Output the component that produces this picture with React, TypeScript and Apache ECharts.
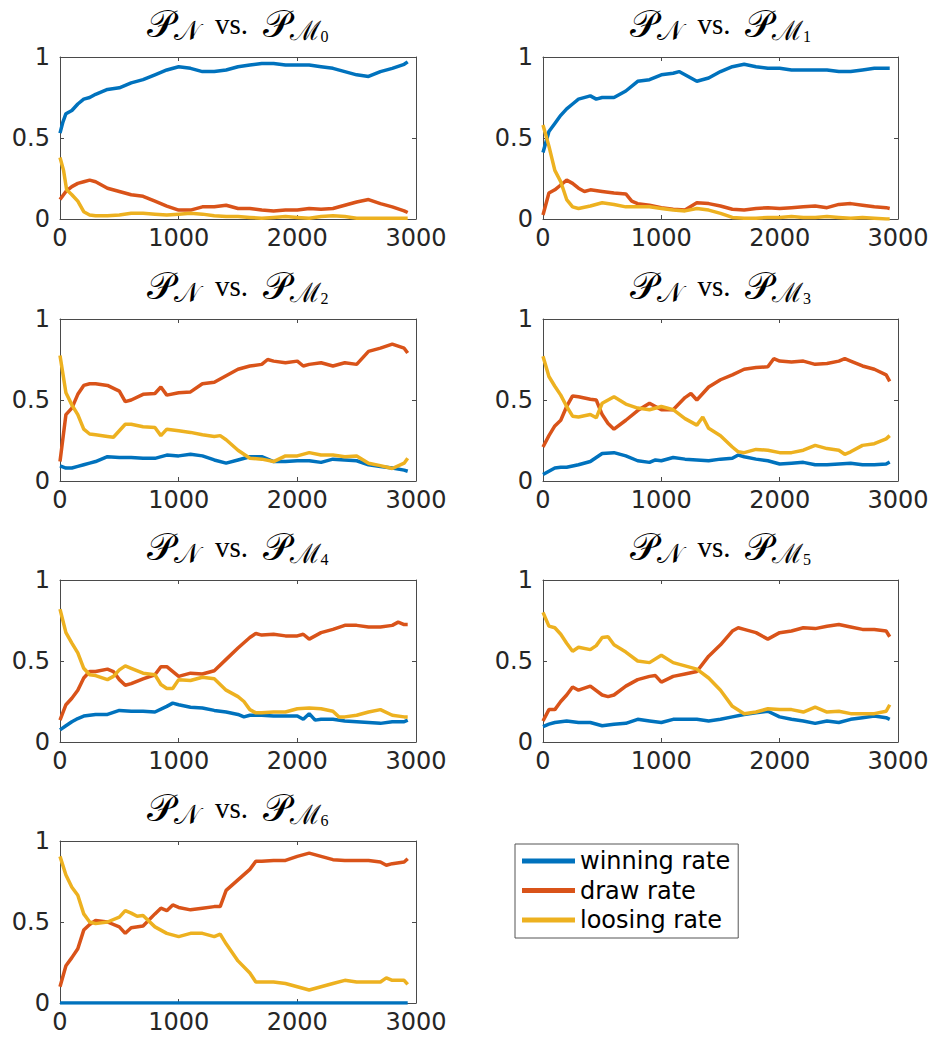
import React, { useEffect, useRef } from "react";
import * as echarts from "echarts";

const SERIES_NAMES = ["winning rate", "draw rate", "loosing rate"];
const COLORS = ["#0072BD", "#D95319", "#EDB120"];
const X_MIN = 0, X_MAX = 3000, X_STEP = 1000;
const Y_MIN = 0, Y_MAX = 1, Y_STEP = 0.5;
const TITLE_SUBS = ["0", "1", "2", "3", "4", "5", "6"];

// Panel 0: P_N vs P_M0
const P0_WIN = [[0,0.53],[25,0.6],[50,0.65],[100,0.67],[150,0.71],[200,0.74],[250,0.75],[300,0.77],[400,0.8],[500,0.81],[600,0.84],[700,0.86],[800,0.89],[900,0.92],[1000,0.94],[1100,0.93],[1200,0.91],[1300,0.91],[1400,0.92],[1500,0.94],[1600,0.95],[1700,0.96],[1800,0.96],[1900,0.95],[2000,0.95],[2100,0.95],[2200,0.94],[2300,0.93],[2400,0.91],[2500,0.89],[2600,0.88],[2700,0.91],[2800,0.93],[2900,0.955],[2930,0.97]];
const P0_DRAW = [[0,0.12],[50,0.17],[100,0.2],[150,0.22],[200,0.23],[250,0.24],[300,0.23],[400,0.19],[500,0.17],[600,0.15],[700,0.14],[800,0.11],[900,0.08],[1000,0.055],[1100,0.055],[1200,0.075],[1300,0.075],[1400,0.085],[1500,0.065],[1600,0.065],[1700,0.055],[1800,0.05],[1900,0.055],[2000,0.055],[2100,0.065],[2200,0.06],[2300,0.065],[2400,0.085],[2500,0.105],[2600,0.12],[2700,0.095],[2800,0.075],[2900,0.05],[2930,0.04]];
const P0_LOSE = [[0,0.38],[30,0.3],[56,0.18],[100,0.15],[150,0.11],[200,0.045],[250,0.025],[300,0.02],[400,0.02],[500,0.025],[600,0.035],[700,0.035],[800,0.03],[900,0.025],[1000,0.03],[1100,0.035],[1200,0.03],[1300,0.02],[1400,0.015],[1500,0.015],[1600,0.01],[1700,0.005],[1800,0.01],[1900,0.015],[2000,0.01],[2100,0.005],[2200,0.015],[2300,0.02],[2400,0.015],[2500,0.005],[2600,0.005],[2700,0.005],[2800,0.005],[2900,0.005],[2930,0.005]];

// Panel 1: P_N vs P_M1
const P1_WIN = [[0,0.41],[50,0.54],[100,0.59],[150,0.64],[200,0.68],[250,0.71],[300,0.74],[400,0.76],[450,0.74],[500,0.75],[600,0.75],[700,0.79],[800,0.85],[900,0.86],[1000,0.89],[1100,0.9],[1150,0.91],[1200,0.89],[1300,0.85],[1400,0.87],[1500,0.91],[1600,0.94],[1700,0.955],[1800,0.94],[1900,0.93],[2000,0.93],[2100,0.92],[2200,0.92],[2300,0.92],[2400,0.92],[2500,0.91],[2600,0.91],[2700,0.92],[2800,0.93],[2900,0.93],[2930,0.93]];
const P1_DRAW = [[0,0.025],[50,0.16],[100,0.18],[150,0.21],[200,0.24],[250,0.22],[300,0.19],[350,0.17],[400,0.18],[500,0.17],[600,0.16],[700,0.155],[750,0.11],[800,0.095],[900,0.085],[1000,0.07],[1100,0.06],[1200,0.055],[1300,0.1],[1400,0.095],[1500,0.08],[1600,0.06],[1700,0.055],[1800,0.065],[1900,0.07],[2000,0.065],[2100,0.07],[2200,0.075],[2300,0.08],[2400,0.07],[2500,0.09],[2600,0.095],[2700,0.085],[2800,0.075],[2900,0.07],[2930,0.065]];
const P1_LOSE = [[0,0.58],[50,0.45],[100,0.3],[150,0.23],[200,0.12],[250,0.075],[300,0.065],[400,0.08],[500,0.1],[600,0.09],[700,0.075],[800,0.075],[900,0.075],[1000,0.065],[1100,0.055],[1200,0.05],[1300,0.065],[1400,0.055],[1500,0.035],[1600,0.01],[1700,0.005],[1800,0.005],[1900,0.01],[2000,0.01],[2100,0.015],[2200,0.01],[2300,0.01],[2400,0.015],[2500,0.01],[2600,0.005],[2700,0.01],[2800,0.005],[2900,0],[2930,0]];

// Panel 2: P_N vs P_M2
const P2_WIN = [[0,0.094],[50,0.08],[100,0.08],[150,0.09],[200,0.1],[250,0.11],[300,0.12],[400,0.15],[500,0.145],[600,0.145],[700,0.14],[800,0.14],[900,0.16],[1000,0.155],[1100,0.165],[1200,0.155],[1300,0.13],[1400,0.11],[1500,0.13],[1600,0.15],[1700,0.15],[1800,0.12],[1900,0.12],[2000,0.125],[2100,0.125],[2200,0.115],[2300,0.135],[2400,0.13],[2500,0.125],[2600,0.1],[2700,0.09],[2800,0.08],[2900,0.067],[2930,0.06]];
const P2_DRAW = [[0,0.12],[50,0.41],[100,0.45],[150,0.535],[200,0.59],[250,0.6],[300,0.6],[400,0.59],[500,0.555],[550,0.49],[600,0.5],[700,0.535],[800,0.54],[850,0.58],[900,0.53],[1000,0.545],[1100,0.55],[1200,0.6],[1300,0.61],[1400,0.65],[1500,0.69],[1600,0.71],[1700,0.72],[1750,0.75],[1800,0.74],[1900,0.73],[2000,0.74],[2050,0.71],[2100,0.72],[2200,0.73],[2300,0.71],[2400,0.73],[2500,0.72],[2600,0.8],[2700,0.82],[2800,0.845],[2900,0.82],[2930,0.79]];
const P2_LOSE = [[0,0.775],[50,0.545],[100,0.47],[150,0.41],[200,0.32],[250,0.29],[300,0.285],[400,0.275],[450,0.27],[500,0.31],[550,0.35],[600,0.35],[700,0.335],[800,0.33],[850,0.28],[900,0.32],[1000,0.31],[1100,0.3],[1200,0.285],[1300,0.275],[1350,0.28],[1400,0.255],[1500,0.19],[1600,0.14],[1700,0.135],[1800,0.12],[1900,0.155],[2000,0.155],[2100,0.175],[2200,0.16],[2300,0.16],[2400,0.15],[2500,0.155],[2600,0.11],[2700,0.095],[2800,0.077],[2900,0.11],[2930,0.14]];

// Panel 3: P_N vs P_M3
const P3_WIN = [[0,0.04],[50,0.06],[100,0.08],[150,0.085],[200,0.085],[300,0.1],[400,0.12],[450,0.145],[500,0.17],[600,0.175],[700,0.155],[800,0.125],[900,0.115],[950,0.13],[1000,0.125],[1100,0.145],[1200,0.135],[1300,0.13],[1400,0.125],[1500,0.135],[1600,0.14],[1650,0.16],[1700,0.15],[1800,0.135],[1900,0.125],[2000,0.105],[2100,0.11],[2200,0.115],[2300,0.1],[2400,0.1],[2500,0.105],[2600,0.11],[2700,0.1],[2800,0.1],[2900,0.105],[2930,0.117]];
const P3_DRAW = [[0,0.21],[50,0.28],[100,0.34],[150,0.375],[200,0.46],[250,0.525],[300,0.52],[400,0.505],[450,0.5],[500,0.41],[550,0.355],[600,0.32],[700,0.375],[800,0.435],[900,0.48],[1000,0.44],[1100,0.44],[1200,0.515],[1250,0.54],[1300,0.5],[1400,0.58],[1500,0.625],[1600,0.655],[1700,0.69],[1800,0.7],[1900,0.705],[1950,0.755],[2000,0.74],[2100,0.735],[2200,0.74],[2300,0.72],[2400,0.725],[2500,0.74],[2550,0.755],[2600,0.74],[2700,0.71],[2800,0.69],[2900,0.655],[2930,0.615]];
const P3_LOSE = [[0,0.77],[50,0.645],[100,0.585],[150,0.53],[200,0.46],[250,0.4],[300,0.395],[400,0.41],[450,0.39],[500,0.48],[600,0.52],[700,0.475],[800,0.45],[900,0.44],[1000,0.46],[1100,0.44],[1200,0.385],[1300,0.345],[1350,0.395],[1400,0.325],[1500,0.28],[1600,0.21],[1650,0.18],[1700,0.175],[1800,0.195],[1900,0.19],[2000,0.175],[2100,0.175],[2200,0.19],[2300,0.22],[2400,0.2],[2500,0.19],[2550,0.165],[2600,0.18],[2700,0.22],[2800,0.23],[2900,0.26],[2930,0.28]];

// Panel 4: P_N vs P_M4
const P4_WIN = [[0,0.075],[50,0.1],[100,0.125],[150,0.145],[200,0.16],[300,0.17],[400,0.17],[500,0.195],[600,0.19],[700,0.19],[800,0.185],[900,0.22],[950,0.24],[1000,0.23],[1100,0.215],[1200,0.21],[1300,0.195],[1400,0.185],[1500,0.17],[1550,0.155],[1600,0.165],[1700,0.165],[1800,0.16],[1900,0.16],[2000,0.16],[2050,0.14],[2100,0.175],[2150,0.135],[2200,0.14],[2300,0.14],[2400,0.13],[2500,0.125],[2600,0.12],[2700,0.115],[2800,0.125],[2900,0.125],[2930,0.135]];
const P4_DRAW = [[0,0.135],[50,0.23],[100,0.27],[150,0.32],[200,0.395],[250,0.435],[300,0.435],[400,0.45],[450,0.435],[500,0.385],[550,0.35],[600,0.36],[700,0.39],[800,0.415],[850,0.465],[900,0.465],[1000,0.405],[1100,0.425],[1200,0.42],[1300,0.44],[1400,0.51],[1500,0.58],[1600,0.645],[1650,0.67],[1700,0.66],[1800,0.665],[1900,0.655],[2000,0.655],[2050,0.665],[2100,0.635],[2200,0.675],[2300,0.695],[2400,0.72],[2500,0.72],[2600,0.71],[2700,0.71],[2800,0.72],[2850,0.74],[2900,0.725],[2930,0.725]];
const P4_LOSE = [[0,0.82],[50,0.675],[100,0.61],[150,0.55],[200,0.455],[250,0.415],[300,0.41],[400,0.385],[450,0.405],[500,0.445],[550,0.47],[600,0.455],[700,0.425],[800,0.415],[850,0.355],[900,0.33],[950,0.33],[1000,0.385],[1100,0.38],[1200,0.4],[1300,0.39],[1400,0.32],[1500,0.28],[1550,0.25],[1600,0.2],[1650,0.18],[1700,0.18],[1800,0.185],[1900,0.185],[2000,0.205],[2100,0.21],[2200,0.205],[2300,0.19],[2350,0.155],[2400,0.155],[2500,0.165],[2600,0.185],[2700,0.2],[2800,0.165],[2900,0.155],[2930,0.155]];

// Panel 5: P_N vs P_M5
const P5_WIN = [[0,0.095],[50,0.11],[100,0.12],[200,0.13],[300,0.12],[400,0.12],[500,0.1],[600,0.11],[700,0.115],[800,0.14],[900,0.13],[1000,0.12],[1100,0.14],[1200,0.14],[1300,0.14],[1400,0.13],[1500,0.14],[1600,0.155],[1700,0.17],[1800,0.18],[1900,0.19],[2000,0.155],[2100,0.14],[2200,0.13],[2300,0.115],[2400,0.13],[2500,0.12],[2600,0.14],[2700,0.15],[2800,0.16],[2900,0.15],[2930,0.14]];
const P5_DRAW = [[0,0.13],[50,0.2],[100,0.2],[150,0.25],[200,0.29],[250,0.34],[300,0.32],[400,0.345],[500,0.29],[550,0.28],[600,0.29],[700,0.345],[800,0.385],[900,0.405],[950,0.41],[1000,0.37],[1100,0.405],[1200,0.42],[1300,0.435],[1400,0.53],[1500,0.6],[1600,0.685],[1650,0.705],[1700,0.695],[1800,0.675],[1900,0.635],[2000,0.675],[2100,0.685],[2200,0.705],[2300,0.7],[2400,0.715],[2500,0.725],[2600,0.71],[2700,0.695],[2800,0.695],[2900,0.685],[2930,0.65]];
const P5_LOSE = [[0,0.8],[50,0.715],[100,0.705],[150,0.665],[200,0.61],[250,0.56],[300,0.585],[400,0.57],[450,0.595],[500,0.645],[550,0.65],[600,0.6],[700,0.555],[800,0.5],[900,0.49],[1000,0.535],[1100,0.49],[1200,0.47],[1300,0.45],[1400,0.395],[1500,0.32],[1600,0.22],[1700,0.175],[1800,0.185],[1900,0.205],[2000,0.2],[2100,0.2],[2200,0.185],[2300,0.215],[2400,0.185],[2500,0.19],[2600,0.175],[2700,0.175],[2800,0.175],[2900,0.19],[2930,0.23]];

// Panel 6: P_N vs P_M6
const P6_WIN = [[0,0],[500,0],[1000,0],[1500,0],[2000,0],[2500,0],[2930,0]];
const P6_DRAW = [[0,0.1],[50,0.23],[100,0.28],[150,0.335],[200,0.45],[250,0.485],[300,0.51],[400,0.5],[500,0.47],[550,0.43],[600,0.465],[700,0.475],[800,0.55],[850,0.585],[900,0.57],[950,0.605],[1000,0.59],[1100,0.575],[1200,0.585],[1300,0.595],[1350,0.595],[1400,0.695],[1500,0.76],[1600,0.825],[1650,0.875],[1700,0.875],[1800,0.88],[1900,0.88],[2000,0.905],[2100,0.925],[2200,0.905],[2300,0.885],[2400,0.88],[2500,0.88],[2600,0.88],[2700,0.87],[2750,0.85],[2800,0.86],[2900,0.87],[2930,0.89]];
const P6_LOSE = [[0,0.905],[50,0.79],[100,0.715],[150,0.665],[200,0.55],[250,0.5],[300,0.49],[400,0.5],[500,0.53],[550,0.57],[600,0.555],[650,0.535],[700,0.54],[800,0.47],[900,0.43],[1000,0.41],[1100,0.43],[1200,0.43],[1300,0.41],[1350,0.425],[1400,0.365],[1500,0.26],[1600,0.185],[1650,0.13],[1700,0.13],[1800,0.13],[1900,0.12],[2000,0.1],[2100,0.08],[2200,0.1],[2300,0.12],[2400,0.14],[2500,0.13],[2600,0.13],[2700,0.13],[2750,0.155],[2800,0.14],[2900,0.14],[2930,0.115]];

const PANELS = [
  [P0_WIN, P0_DRAW, P0_LOSE],
  [P1_WIN, P1_DRAW, P1_LOSE],
  [P2_WIN, P2_DRAW, P2_LOSE],
  [P3_WIN, P3_DRAW, P3_LOSE],
  [P4_WIN, P4_DRAW, P4_LOSE],
  [P5_WIN, P5_DRAW, P5_LOSE],
  [P6_WIN, P6_DRAW, P6_LOSE],
];

const GRID_LEFTS = [60, 543];
const GRID_WIDTHS = [356, 355];
const GRID_TOPS = [57, 319, 580, 841];
const GRID_HEIGHT = 162;

const AXIS_COLOR = "#4a4a4a";
const LABEL_COLOR = "#262626";
const SANS = "DejaVu Sans";
const SERIF = "Liberation Serif";

export default function App() {
  const ref = useRef<HTMLDivElement>(null);
  useEffect(() => {
    if (!ref.current) return;
    const chart = echarts.init(ref.current, null, { renderer: "svg" });
    const grid: any[] = [];
    const xAxis: any[] = [];
    const yAxis: any[] = [];
    const series: any[] = [];
    const graphic: any[] = [];
    const lineStyle = { color: AXIS_COLOR, width: 1 };
    PANELS.forEach((panel, i) => {
      const col = i % 2;
      const row = Math.floor(i / 2);
      const left = GRID_LEFTS[col];
      const width = GRID_WIDTHS[col];
      const top = GRID_TOPS[row];
      grid.push({ left, top, width, height: GRID_HEIGHT, containLabel: false });
      const xBase = {
        gridIndex: i, type: "value", min: X_MIN, max: X_MAX, interval: X_STEP,
        axisLine: { show: true, onZero: false, lineStyle },
        axisTick: { show: true, inside: true, length: 4, lineStyle },
        splitLine: { show: false },
      };
      xAxis.push({ ...xBase, position: "bottom",
        axisLabel: { show: true, fontSize: 24, fontFamily: SANS, color: LABEL_COLOR, margin: 7,
          formatter: (v: number) => String(v) } });
      xAxis.push({ ...xBase, position: "top", axisLabel: { show: false } });
      const yBase = {
        gridIndex: i, type: "value", min: Y_MIN, max: Y_MAX, interval: Y_STEP,
        axisLine: { show: true, onZero: false, lineStyle },
        axisTick: { show: true, inside: true, length: 4, lineStyle },
        splitLine: { show: false },
      };
      yAxis.push({ ...yBase, position: "left",
        axisLabel: { show: true, fontSize: 24, fontFamily: SANS, color: LABEL_COLOR, margin: 10,
          formatter: (v: number) => String(v) } });
      yAxis.push({ ...yBase, position: "right", axisLabel: { show: false } });
      panel.forEach((data, k) => {
        series.push({
          type: "line", name: SERIES_NAMES[k], xAxisIndex: 2 * i, yAxisIndex: 2 * i,
          data, showSymbol: false, symbol: "none",
          lineStyle: { color: COLORS[k], width: 3.5 }, itemStyle: { color: COLORS[k] },
          z: 2 + k,
        });
      });
      graphic.push({
        type: "text", x: left + width / 2, y: top - 13,
        style: {
          text: `{p|𝒫}{s|𝒩}{m|  vs.  }{p|𝒫}{s|ℳ}{ss|${TITLE_SUBS[i]}}`,
          align: "center", verticalAlign: "bottom",
          rich: {
            p: { fontFamily: SERIF, fontSize: 38, fill: "#000", lineHeight: 40, verticalAlign: "middle" },
            m: { fontFamily: SERIF, fontSize: 29, fill: "#000", lineHeight: 40, verticalAlign: "middle" },
            s: { fontFamily: SERIF, fontSize: 27, fill: "#000", lineHeight: 26, verticalAlign: "bottom" },
            ss: { fontFamily: SERIF, fontSize: 16, fill: "#000", lineHeight: 14, verticalAlign: "bottom" },
          },
        },
      });
    });
    chart.setOption({
      animation: false,
      backgroundColor: "#fff",
      grid, xAxis, yAxis, series, graphic,
      legend: {
        data: SERIES_NAMES, orient: "vertical", left: 515, top: 844,
        icon: "rect", itemWidth: 53, itemHeight: 5, itemGap: 5.5,
        padding: [5, 8, 6, 7],
        borderColor: "#555", borderWidth: 1, backgroundColor: "#fff",
        textStyle: { fontSize: 24, fontFamily: SANS, color: "#000" },
      },
    });
    return () => chart.dispose();
  }, []);
  return <div ref={ref} style={{ position: "absolute", left: 0, top: 0, width: 932, height: 1043 }} />;
}
